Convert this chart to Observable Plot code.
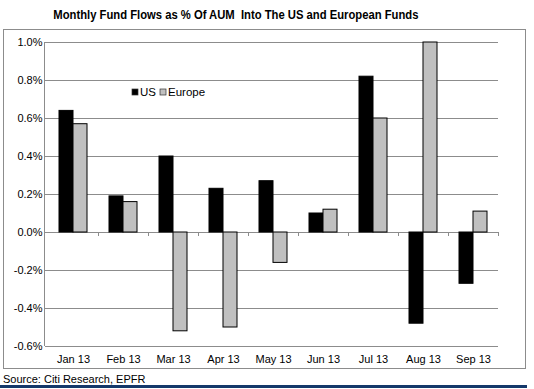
<!DOCTYPE html>
<html>
<head>
<meta charset="utf-8">
<script src="https://cdn.jsdelivr.net/npm/d3@7"></script>
<script src="https://cdn.jsdelivr.net/npm/@observablehq/plot@0.6"></script>
<style>
  html, body { margin: 0; padding: 0; background: #fff; width: 534px; height: 389px; overflow: hidden; }
  body { position: relative; font-family: "Liberation Sans", Arial, sans-serif; }
  #title { position: absolute; left: 0; top: 5px; width: 472px; text-align: center; white-space: nowrap; }
  #title span { display: inline-block; transform: scaleX(0.9); transform-origin: center;
           font-family: "Liberation Sans Narrow", "Arial Narrow", "Liberation Sans", sans-serif;
           font-weight: bold; font-size: 12.5px; color: #000; }
  #wrap { position: absolute; left: 3px; top: 29px; width: 523px; height: 340px;
          box-sizing: border-box; border: 1px solid #8c8c8c; }
  #wrap > svg.main { position: absolute; left: 0; top: 0; }
  #legend { position: absolute; left: 128px; top: 56px; }
  #source { position: absolute; left: 3px; top: 373px; font-size: 11px; color: #000; white-space: nowrap; }
  #bar { position: absolute; left: 0; top: 385px; width: 527px; height: 3px; background: #14386a; }
</style>
</head>
<body>
<div id="title"><span>Monthly Fund Flows as % Of AUM&nbsp; Into The US and European Funds</span></div>
<div id="wrap"></div>
<div id="source">Source: Citi Research, EPFR</div>
<div id="bar"></div>
<script>
const months = ["Jan 13", "Feb 13", "Mar 13", "Apr 13", "May 13", "Jun 13", "Jul 13", "Aug 13", "Sep 13"];
const series = ["US", "Europe"];
const usValues = [0.64, 0.19, 0.40, 0.23, 0.27, 0.10, 0.82, -0.48, -0.27];
const europeValues = [0.57, 0.16, -0.52, -0.50, -0.16, 0.12, 0.60, 1.00, 0.11];
const yTicks = [-0.6, -0.4, -0.2, 0.0, 0.2, 0.4, 0.6, 0.8, 1.0];
const colors = ["#000000", "#c0c0c0"];

const data = [];
months.forEach((m, i) => {
  data.push({month: m, series: "US", value: usValues[i]});
  data.push({month: m, series: "Europe", value: europeValues[i]});
});

const W = 521, H = 338;
const plot = Plot.plot({
  width: W,
  height: H,
  marginLeft: 40,
  marginRight: 23,
  marginTop: 12,
  marginBottom: 22,
  style: {fontFamily: "'Liberation Sans', Arial, sans-serif", fontSize: "11px", color: "#000", background: "transparent"},
  fx: {domain: months, padding: 0, label: null, axis: null},
  x: {domain: series, paddingInner: 0, paddingOuter: 0.78, axis: null},
  y: {domain: [-0.6, 1.0], ticks: yTicks, label: null},
  color: {domain: series, range: colors},
  marks: [
    Plot.gridY(yTicks, {stroke: "#8c8c8c", strokeOpacity: 1, strokeWidth: 1}),
    Plot.axisY(yTicks, {tickSize: 3, tickPadding: 3, stroke: "#8c8c8c", fill: "#000",
      tickFormat: d => d.toFixed(1) + "%", label: null}),
    Plot.axisFx({anchor: "bottom", tickSize: 0, tickPadding: 9, label: null, fill: "#000"}),
    Plot.barY(data, {fx: "month", x: "series", y: "value", fill: "series", stroke: "#000", strokeWidth: 1})
  ]
});
plot.classList.add("main");
document.getElementById("wrap").appendChild(plot);

// y-axis line and category boundary ticks along the zero line, from Plot's scales
const svg = d3.select(plot);
const fx = plot.scale("fx");
const yS = plot.scale("y");
const x0 = fx.range[0];
const yTop = yS.apply(1.0), yBot = yS.apply(-0.6), yZero = yS.apply(0);
const g = svg.append("g").attr("stroke", "#8c8c8c").attr("stroke-width", 1);
g.append("line").attr("x1", x0 + 0.5).attr("x2", x0 + 0.5).attr("y1", yTop).attr("y2", yBot);
months.forEach(m => {
  const xb = Math.round(fx.apply(m) + fx.bandwidth) + 0.5;
  g.append("line").attr("x1", xb).attr("x2", xb).attr("y1", yZero).attr("y2", yZero + 4);
});
svg.selectAll("g[aria-label='bar']").raise();

// legend
const leg = Plot.legend({
  color: {domain: series, range: colors},
  swatchSize: 6,
  style: {fontFamily: "'Liberation Sans', Arial, sans-serif", fontSize: "11.5px", color: "#000"}
});
const ld = document.createElement("div");
ld.id = "legend";
ld.appendChild(leg);
document.getElementById("wrap").appendChild(ld);
const L = d3.select(leg);
L.style("min-height", "0").style("margin", "0");
L.selectAll("span").style("margin-right", "4px");
L.selectAll("span > svg").style("margin-right", "2px");
L.selectAll("svg rect").attr("stroke", "#333").attr("stroke-width", 0.7);
</script>
</body>
</html>
